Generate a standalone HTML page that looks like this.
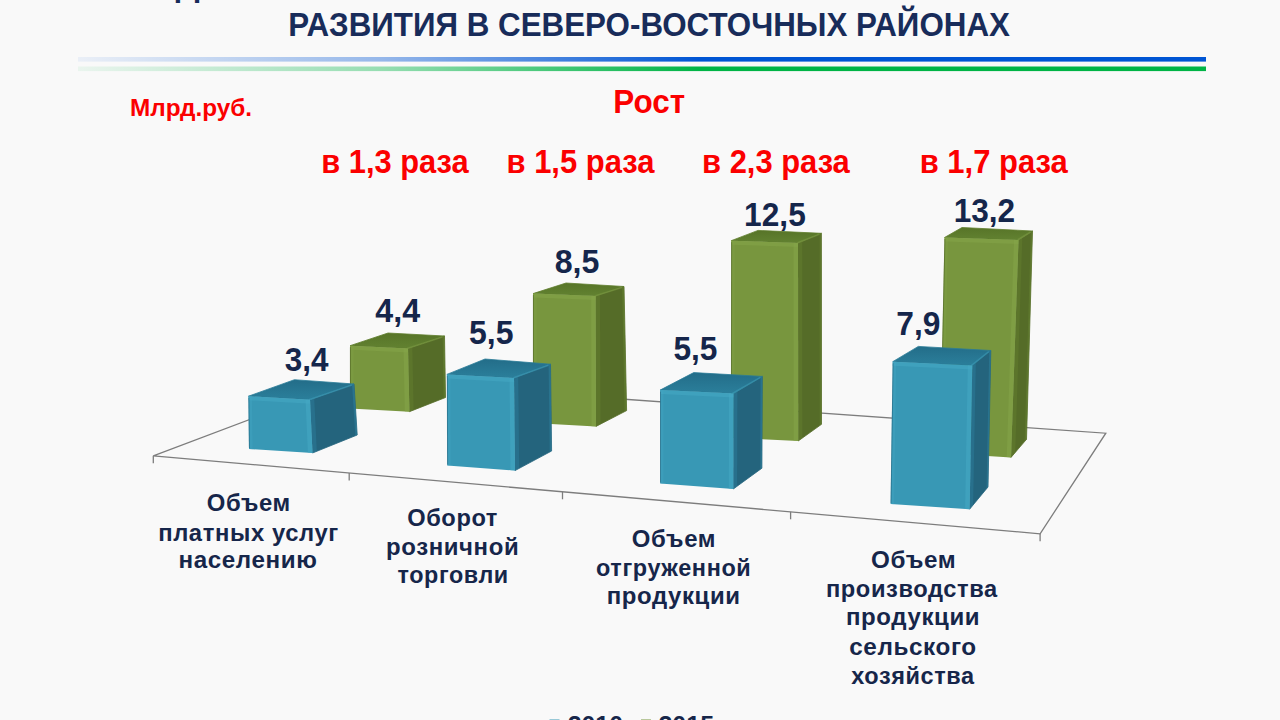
<!DOCTYPE html>
<html lang="ru"><head><meta charset="utf-8"><title>Slide</title>
<style>
html,body{margin:0;padding:0;background:#f9f9f9;}
body{width:1280px;height:720px;overflow:hidden;position:relative;}
svg{position:absolute;left:0;top:0;display:block;}
text{font-family:"Liberation Sans",Arial,sans-serif;font-weight:bold;}
</style></head><body>
<svg width="1280" height="720" viewBox="0 0 1280 720">
<defs>
<linearGradient id="gb" x1="78" y1="0" x2="1206" y2="0" gradientUnits="userSpaceOnUse">
<stop offset="0" stop-color="#0055d4" stop-opacity="0.06"/><stop offset="0.27" stop-color="#0055d4" stop-opacity="0.4"/><stop offset="0.55" stop-color="#0055d4" stop-opacity="1"/><stop offset="1" stop-color="#0055d4"/></linearGradient>
<linearGradient id="gg" x1="78" y1="0" x2="1206" y2="0" gradientUnits="userSpaceOnUse">
<stop offset="0" stop-color="#00b446" stop-opacity="0.06"/><stop offset="0.27" stop-color="#00b446" stop-opacity="0.4"/><stop offset="0.55" stop-color="#00b446" stop-opacity="1"/><stop offset="1" stop-color="#00b446"/></linearGradient>
<linearGradient id="topb" x1="0" y1="1" x2="0" y2="0"><stop offset="0" stop-color="#2b7f9b"/><stop offset="1" stop-color="#236d89"/></linearGradient>
<linearGradient id="topg" x1="0" y1="1" x2="0" y2="0"><stop offset="0" stop-color="#628231"/><stop offset="1" stop-color="#577428"/></linearGradient>
</defs>
<text x="175.5" y="-4" font-size="34" fill="#182c5a">ДИНАМИКА ОСНОВНЫХ ПОКАЗАТЕЛЕЙ</text>
<rect x="78" y="57" width="1128" height="4.6" fill="url(#gb)"/>
<rect x="78" y="66.5" width="1128" height="4.6" fill="url(#gg)"/>
<g stroke="#7d7d7d" stroke-width="1.3" fill="none">
<polyline points="298.3,401.2 153.3,455.8 1040.1,533.8 1105.8,433.2 600.0,397.5"/>
<line x1="153.3" y1="455.8" x2="153.3" y2="463.3"/>
<line x1="349.2" y1="473.0" x2="349.2" y2="480.5"/>
<line x1="562.5" y1="491.8" x2="562.5" y2="499.3"/>
<line x1="790.6" y1="511.8" x2="790.6" y2="519.3"/>
<line x1="1040.1" y1="533.8" x2="1040.1" y2="541.3"/>
</g>
<polygon points="408.0,348.5 444.5,336.0 445.5,397.5 409.4,411.7" fill="#556c28" stroke="#556c28" stroke-width="0.8" stroke-linejoin="round"/>
<polygon points="408.0,348.5 412.3,347.0 413.6,410.0 409.4,411.7" fill="#6e8c36" opacity="0.3"/>
<polygon points="442.6,336.6 444.5,336.0 445.5,397.5 443.6,398.2" fill="#6e8c36" opacity="0.35"/>
<polygon points="350.0,345.7 388.0,333.0 444.5,336.0 408.0,348.5" fill="url(#topg)" stroke="#5f7d2d" stroke-width="0.8" stroke-linejoin="round"/>
<polyline points="407.0,348.5 442.5,337.0" stroke="#86a64a" stroke-width="1.6" opacity="0.4" fill="none"/>
<polygon points="350.0,345.7 408.0,348.5 409.4,411.7 350.0,408.5" fill="#78963e"/>
<polygon points="350.0,345.7 408.0,348.5 408.1,352.5 350.0,349.7" fill="#86a64a" opacity="0.5"/>
<polygon points="403.5,348.3 408.0,348.5 409.4,411.7 404.8,411.5" fill="#86a64a" opacity="0.5"/>
<polygon points="350.6,345.7 353.5,345.9 353.6,408.7 350.6,408.5" fill="#86a64a" opacity="0.3"/>
<line x1="350.4" y1="347.2" x2="350.4" y2="407.5" stroke="#4a5f22" stroke-width="0.9" opacity="0.6"/>
<polygon points="310.0,399.7 354.0,384.0 357.2,435.0 312.5,453.0" fill="#24647d" stroke="#24647d" stroke-width="0.8" stroke-linejoin="round"/>
<polygon points="310.0,399.7 314.2,398.2 316.8,451.3 312.5,453.0" fill="#3390ae" opacity="0.3"/>
<polygon points="352.1,384.7 354.0,384.0 357.2,435.0 355.3,435.8" fill="#3390ae" opacity="0.35"/>
<polygon points="248.4,396.2 294.4,379.7 354.0,384.0 310.0,399.7" fill="url(#topb)" stroke="#2a7b97" stroke-width="0.8" stroke-linejoin="round"/>
<polyline points="309.0,399.7 352.0,385.0" stroke="#46aac6" stroke-width="1.6" opacity="0.4" fill="none"/>
<polygon points="248.4,396.2 310.0,399.7 312.5,453.0 249.0,449.0" fill="#3898b5"/>
<polygon points="248.4,396.2 310.0,399.7 310.2,403.7 248.4,400.2" fill="#46aac6" opacity="0.5"/>
<polygon points="305.5,399.4 310.0,399.7 312.5,453.0 307.9,452.7" fill="#46aac6" opacity="0.5"/>
<polygon points="249.0,396.2 251.9,396.4 252.6,449.2 249.6,449.0" fill="#46aac6" opacity="0.3"/>
<line x1="248.8" y1="397.7" x2="249.4" y2="448.0" stroke="#216079" stroke-width="0.9" opacity="0.6"/>
<polygon points="595.6,296.0 624.0,286.5 626.6,410.6 596.0,426.4" fill="#556c28" stroke="#556c28" stroke-width="0.8" stroke-linejoin="round"/>
<polygon points="595.6,296.0 599.9,294.6 600.6,424.0 596.0,426.4" fill="#6e8c36" opacity="0.3"/>
<polygon points="622.1,287.1 624.0,286.5 626.6,410.6 624.6,411.7" fill="#6e8c36" opacity="0.35"/>
<polygon points="533.0,293.6 566.0,283.0 624.0,286.5 595.6,296.0" fill="url(#topg)" stroke="#5f7d2d" stroke-width="0.8" stroke-linejoin="round"/>
<polyline points="594.6,296.0 622.0,287.5" stroke="#86a64a" stroke-width="1.6" opacity="0.4" fill="none"/>
<polygon points="533.0,293.6 595.6,296.0 596.0,426.4 533.0,423.0" fill="#78963e"/>
<polygon points="533.0,293.6 595.6,296.0 595.6,300.0 533.0,297.6" fill="#86a64a" opacity="0.5"/>
<polygon points="591.1,295.8 595.6,296.0 596.0,426.4 591.5,426.2" fill="#86a64a" opacity="0.5"/>
<polygon points="533.6,293.6 536.5,293.7 536.5,423.2 533.6,423.0" fill="#86a64a" opacity="0.3"/>
<line x1="533.4" y1="295.1" x2="533.4" y2="422.0" stroke="#4a5f22" stroke-width="0.9" opacity="0.6"/>
<polygon points="514.0,378.0 550.5,364.2 551.6,451.0 515.0,470.6" fill="#24647d" stroke="#24647d" stroke-width="0.8" stroke-linejoin="round"/>
<polygon points="514.0,378.0 518.2,376.4 519.2,468.3 515.0,470.6" fill="#3390ae" opacity="0.3"/>
<polygon points="548.6,364.9 550.5,364.2 551.6,451.0 549.7,452.0" fill="#3390ae" opacity="0.35"/>
<polygon points="446.9,374.4 485.0,359.0 550.5,364.2 514.0,378.0" fill="url(#topb)" stroke="#2a7b97" stroke-width="0.8" stroke-linejoin="round"/>
<polyline points="513.0,378.0 548.5,365.2" stroke="#46aac6" stroke-width="1.6" opacity="0.4" fill="none"/>
<polygon points="446.9,374.4 514.0,378.0 515.0,470.6 447.2,465.5" fill="#3898b5"/>
<polygon points="446.9,374.4 514.0,378.0 514.0,382.1 446.9,378.4" fill="#46aac6" opacity="0.5"/>
<polygon points="509.5,377.8 514.0,378.0 515.0,470.6 510.5,470.3" fill="#46aac6" opacity="0.5"/>
<polygon points="447.5,374.4 450.4,374.6 450.7,465.8 447.8,465.5" fill="#46aac6" opacity="0.3"/>
<line x1="447.3" y1="375.9" x2="447.6" y2="464.5" stroke="#216079" stroke-width="0.9" opacity="0.6"/>
<polygon points="798.0,243.0 821.4,233.3 821.5,424.3 798.2,441.0" fill="#556c28" stroke="#556c28" stroke-width="0.8" stroke-linejoin="round"/>
<polygon points="798.0,243.0 802.2,241.3 802.3,438.0 798.2,441.0" fill="#6e8c36" opacity="0.3"/>
<polygon points="819.6,234.1 821.4,233.3 821.5,424.3 819.7,425.6" fill="#6e8c36" opacity="0.35"/>
<polygon points="731.2,240.7 758.0,230.4 821.4,233.3 798.0,243.0" fill="url(#topg)" stroke="#5f7d2d" stroke-width="0.8" stroke-linejoin="round"/>
<polyline points="797.0,243.0 819.4,234.3" stroke="#86a64a" stroke-width="1.6" opacity="0.4" fill="none"/>
<polygon points="731.2,240.7 798.0,243.0 798.2,441.0 731.0,437.8" fill="#78963e"/>
<polygon points="731.2,240.7 798.0,243.0 798.0,247.0 731.2,244.7" fill="#86a64a" opacity="0.5"/>
<polygon points="793.5,242.8 798.0,243.0 798.2,441.0 793.7,440.8" fill="#86a64a" opacity="0.5"/>
<polygon points="731.8,240.7 734.7,240.8 734.5,438.0 731.6,437.8" fill="#86a64a" opacity="0.3"/>
<line x1="731.6" y1="242.2" x2="731.4" y2="436.8" stroke="#4a5f22" stroke-width="0.9" opacity="0.6"/>
<polygon points="733.5,393.5 762.3,376.4 761.9,468.2 733.3,489.0" fill="#24647d" stroke="#24647d" stroke-width="0.8" stroke-linejoin="round"/>
<polygon points="733.5,393.5 737.4,391.2 737.1,486.2 733.3,489.0" fill="#3390ae" opacity="0.3"/>
<polygon points="760.6,377.4 762.3,376.4 761.9,468.2 760.2,469.4" fill="#3390ae" opacity="0.35"/>
<polygon points="660.1,390.1 693.7,372.6 762.3,376.4 733.5,393.5" fill="url(#topb)" stroke="#2a7b97" stroke-width="0.8" stroke-linejoin="round"/>
<polyline points="732.5,393.5 760.3,377.4" stroke="#46aac6" stroke-width="1.6" opacity="0.4" fill="none"/>
<polygon points="660.1,390.1 733.5,393.5 733.3,489.0 660.1,483.4" fill="#3898b5"/>
<polygon points="660.1,390.1 733.5,393.5 733.5,397.6 660.1,394.1" fill="#46aac6" opacity="0.5"/>
<polygon points="729.0,393.3 733.5,393.5 733.3,489.0 728.8,488.7" fill="#46aac6" opacity="0.5"/>
<polygon points="660.7,390.1 663.6,390.3 663.6,483.7 660.7,483.4" fill="#46aac6" opacity="0.3"/>
<line x1="660.5" y1="391.6" x2="660.5" y2="482.4" stroke="#216079" stroke-width="0.9" opacity="0.6"/>
<polygon points="1018.5,240.0 1032.5,231.0 1026.5,439.3 1011.0,457.4" fill="#556c28" stroke="#556c28" stroke-width="0.8" stroke-linejoin="round"/>
<polygon points="1018.5,240.0 1022.3,237.6 1015.2,452.5 1011.0,457.4" fill="#6e8c36" opacity="0.3"/>
<polygon points="1030.8,232.1 1032.5,231.0 1026.5,439.3 1024.6,441.5" fill="#6e8c36" opacity="0.35"/>
<polygon points="944.5,237.5 962.0,227.5 1032.5,231.0 1018.5,240.0" fill="url(#topg)" stroke="#5f7d2d" stroke-width="0.8" stroke-linejoin="round"/>
<polyline points="1017.5,240.0 1030.5,232.0" stroke="#86a64a" stroke-width="1.6" opacity="0.4" fill="none"/>
<polygon points="944.5,237.5 1018.5,240.0 1011.0,457.4 940.0,453.0" fill="#78963e"/>
<polygon points="944.5,237.5 1018.5,240.0 1018.4,244.0 944.4,241.5" fill="#86a64a" opacity="0.5"/>
<polygon points="1014.0,239.8 1018.5,240.0 1011.0,457.4 1006.7,457.1" fill="#86a64a" opacity="0.5"/>
<polygon points="945.1,237.5 948.0,237.6 943.4,453.2 940.6,453.0" fill="#86a64a" opacity="0.3"/>
<line x1="944.9" y1="239.0" x2="940.4" y2="452.0" stroke="#4a5f22" stroke-width="0.9" opacity="0.6"/>
<polygon points="972.3,365.5 990.8,350.5 988.0,487.0 969.6,509.2" fill="#24647d" stroke="#24647d" stroke-width="0.8" stroke-linejoin="round"/>
<polygon points="972.3,365.5 975.8,362.7 973.1,505.0 969.6,509.2" fill="#3390ae" opacity="0.3"/>
<polygon points="989.2,351.8 990.8,350.5 988.0,487.0 986.5,488.9" fill="#3390ae" opacity="0.35"/>
<polygon points="892.7,361.7 918.3,346.4 990.8,350.5 972.3,365.5" fill="url(#topb)" stroke="#2a7b97" stroke-width="0.8" stroke-linejoin="round"/>
<polyline points="971.3,365.5 988.8,351.5" stroke="#46aac6" stroke-width="1.6" opacity="0.4" fill="none"/>
<polygon points="892.7,361.7 972.3,365.5 969.6,509.2 890.6,504.0" fill="#3898b5"/>
<polygon points="892.7,361.7 972.3,365.5 972.2,369.5 892.6,365.7" fill="#46aac6" opacity="0.5"/>
<polygon points="967.8,365.3 972.3,365.5 969.6,509.2 965.1,508.9" fill="#46aac6" opacity="0.5"/>
<polygon points="893.3,361.7 896.2,361.9 894.1,504.2 891.2,504.0" fill="#46aac6" opacity="0.3"/>
<line x1="893.1" y1="363.2" x2="891.0" y2="503.0" stroke="#216079" stroke-width="0.9" opacity="0.6"/>
<rect x="549.5" y="719.5" width="10" height="10" fill="#3898b5"/>
<rect x="641" y="719.5" width="10" height="10" fill="#78963e"/>
<text transform="translate(288.26,35.8) scale(0.9219,1)" font-size="34" fill="#182c5a">РАЗВИТИЯ В СЕВЕРО-ВОСТОЧНЫХ РАЙОНАХ</text>
<text transform="translate(130.01,116) scale(0.9975,1)" font-size="24.4" fill="#fb0000">Млрд.руб.</text>
<text transform="translate(613.29,113.1) scale(0.9534,1)" font-size="33" fill="#fb0000">Рост</text>
<text transform="translate(321.23,172.8) scale(0.9353,1)" font-size="33" fill="#fb0000">в 1,3 раза</text>
<text transform="translate(506.52,172.8) scale(0.9378,1)" font-size="33" fill="#fb0000">в 1,5 раза</text>
<text transform="translate(702.03,172.8) scale(0.9372,1)" font-size="33" fill="#fb0000">в 2,3 раза</text>
<text transform="translate(919.72,172.8) scale(0.9385,1)" font-size="33" fill="#fb0000">в 1,7 раза</text>
<text transform="translate(284.66,371.1) scale(0.9444,1)" font-size="33.3" fill="#15264b">3,4</text>
<text transform="translate(375.28,321.9) scale(0.9667,1)" font-size="33.3" fill="#15264b">4,4</text>
<text transform="translate(469.04,344) scale(0.9602,1)" font-size="33.3" fill="#15264b">5,5</text>
<text transform="translate(554.63,272.75) scale(0.9659,1)" font-size="33.3" fill="#15264b">8,5</text>
<text transform="translate(673.45,359.75) scale(0.9511,1)" font-size="33.3" fill="#15264b">5,5</text>
<text transform="translate(744.10,225.6) scale(0.9516,1)" font-size="33.3" fill="#15264b">12,5</text>
<text transform="translate(896.25,334.7) scale(0.9523,1)" font-size="33.3" fill="#15264b">7,9</text>
<text transform="translate(953.70,222.2) scale(0.9484,1)" font-size="33.3" fill="#15264b">13,2</text>
<text transform="translate(206.79,510.8) scale(1.0150,1)" font-size="23.5" fill="#16264a" letter-spacing="0.6">Объем</text>
<text transform="translate(158.17,540.5) scale(1.0131,1)" font-size="23.5" fill="#16264a" letter-spacing="0.6">платных услуг</text>
<text transform="translate(178.44,568.3) scale(1.0295,1)" font-size="23.5" fill="#16264a" letter-spacing="0.6">населению</text>
<text transform="translate(407.19,525.8) scale(1.0057,1)" font-size="23.5" fill="#16264a" letter-spacing="0.6">Оборот</text>
<text transform="translate(385.96,555.4) scale(1.0197,1)" font-size="23.5" fill="#16264a" letter-spacing="0.6">розничной</text>
<text transform="translate(397.51,583.2) scale(0.9936,1)" font-size="23.5" fill="#16264a" letter-spacing="0.6">торговли</text>
<text transform="translate(631.78,547.1) scale(1.0188,1)" font-size="23.5" fill="#16264a" letter-spacing="0.6">Объем</text>
<text transform="translate(596.00,576.25) scale(0.9980,1)" font-size="23.5" fill="#16264a" letter-spacing="0.6">отгруженной</text>
<text transform="translate(606.71,604) scale(1.0201,1)" font-size="23.5" fill="#16264a" letter-spacing="0.6">продукции</text>
<text transform="translate(870.97,568.1) scale(1.0300,1)" font-size="23.5" fill="#16264a" letter-spacing="0.6">Объем</text>
<text transform="translate(825.89,597.3) scale(1.0071,1)" font-size="23.5" fill="#16264a" letter-spacing="0.6">производства</text>
<text transform="translate(845.95,625.4) scale(1.0228,1)" font-size="23.5" fill="#16264a" letter-spacing="0.6">продукции</text>
<text transform="translate(849.17,654.6) scale(1.0331,1)" font-size="23.5" fill="#16264a" letter-spacing="0.6">сельского</text>
<text transform="translate(851.30,683.75) scale(0.9992,1)" font-size="23.5" fill="#16264a" letter-spacing="0.6">хозяйства</text>
<text transform="translate(567.76,732.6) scale(1.0353,1)" font-size="24" fill="#16264a">2010</text>
<text transform="translate(658.46,732.6) scale(1.0423,1)" font-size="24" fill="#16264a">2015</text>
</svg>
</body></html>
